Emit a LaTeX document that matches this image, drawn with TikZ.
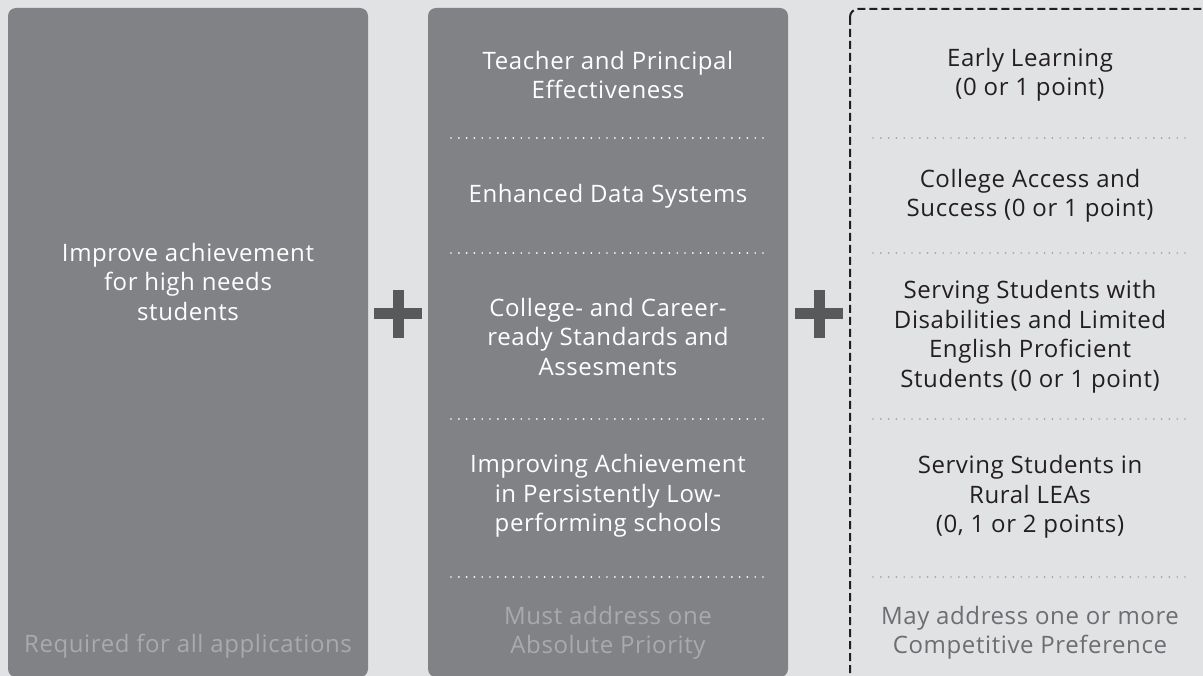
\documentclass[tikz,border=0pt]{standalone}
\usepackage{fontspec}
\setmainfont[Ligatures=NoCommon,LetterSpace=2.5]{Open Sans}
\definecolor{bg}{HTML}{E1E2E4}
\definecolor{boxgray}{HTML}{818286}
\definecolor{plusgray}{HTML}{58595B}
\definecolor{mutedtxt}{HTML}{A8AAAD}
\definecolor{darktxt}{HTML}{231F20}
\definecolor{mutedright}{HTML}{6D6E71}
\definecolor{dotright}{HTML}{A3A5A8}
\begin{document}
\begin{tikzpicture}[x=1pt,y=-1pt,
  panel/.style={fill=boxgray,rounded corners=8pt},
  optpanel/.style={draw=darktxt,line width=2pt,dash pattern=on 8pt off 4pt,rounded corners=8pt},
  basetxt/.style={align=center,font=\fontsize{24}{29.5}\selectfont,inner sep=0pt},
  wtxt/.style={basetxt,text=white},
  mtxt/.style={basetxt,text=mutedtxt},
  dtxt/.style={basetxt,text=darktxt},
  rmtxt/.style={basetxt,text=mutedright},
  wdots/.style={draw=white,line width=1.9pt,line cap=round,dash pattern=on 0pt off 7.8pt},
  gdots/.style={draw=dotright,line width=1.9pt,line cap=round,dash pattern=on 0pt off 7.8pt},
  plusbar/.style={fill=plusgray}]
\useasboundingbox (0,0) rectangle (1203,676);
\fill[bg] (0,0) rectangle (1203,676);
\begin{scope}
\clip (0,0) rectangle (1203,676);
% panels
\path[panel] (8,8) rectangle (368,677);
\path[panel] (428,8) rectangle (788,677);
\path[optpanel] (850,9) rectangle (1220,700);
\end{scope}
% plus signs
\fill[plusbar] (393,290) rectangle (404,338);
\fill[plusbar] (374,308) rectangle (422,319);
\fill[plusbar] (813.5,290) rectangle (824.5,338);
\fill[plusbar] (795,308) rectangle (843,319);
% middle dotted separators
\coordinate (ma1) at (451,138); \coordinate (mb1) at (764,138);
\coordinate (ma2) at (451,253); \coordinate (mb2) at (764,253);
\coordinate (ma3) at (451,419); \coordinate (mb3) at (764,419);
\coordinate (ma4) at (451,577); \coordinate (mb4) at (764,577);
\draw[wdots] (ma1) -- (mb1);
\draw[wdots] (ma2) -- (mb2);
\draw[wdots] (ma3) -- (mb3);
\draw[wdots] (ma4) -- (mb4);
% right dotted separators
\coordinate (ra1) at (873,138); \coordinate (rb1) at (1187,138);
\coordinate (ra2) at (873,253); \coordinate (rb2) at (1187,253);
\coordinate (ra3) at (873,419); \coordinate (rb3) at (1187,419);
\coordinate (ra4) at (873,577); \coordinate (rb4) at (1187,577);
\draw[gdots] (ra1) -- (rb1);
\draw[gdots] (ra2) -- (rb2);
\draw[gdots] (ra3) -- (rb3);
\draw[gdots] (ra4) -- (rb4);
% left panel texts
\node[wtxt] (l1) at (188,282) {Improve achievement\\for high needs\\students};
\node[mtxt] (l2) at (188,646) {Required for all applications};
% middle panel texts
\node[wtxt] (m1) at (608,75) {Teacher and Principal\\Effectiveness};
\node[wtxt] (m2) at (608,196) {Enhanced Data Systems};
\node[wtxt] (m3) at (608,337) {College- and Career-\\ready Standards and\\Assesments};
\node[wtxt] (m4) at (608,496) {Improving Achievement\\in Persistently Low-\\performing schools};
\node[mtxt] (m5) at (608,633) {Must address one\\Absolute Priority};
% right panel texts
\node[dtxt] (r1) at (1030,75) {Early Learning\\(0 or 1 point)};
\node[dtxt] (r2) at (1030,196) {College Access and\\Success (0 or 1 point)};
\node[dtxt] (r3) at (1030,337) {Serving Students with\\Disabilities and Limited\\English Proficient\\Students (0 or 1 point)};
\node[dtxt] (r4) at (1030,497) {Serving Students in\\Rural LEAs\\(0, 1 or 2 points)};
\node[rmtxt] (r5) at (1030,633) {May address one or more\\Competitive Preference};
\end{tikzpicture}
\end{document}
